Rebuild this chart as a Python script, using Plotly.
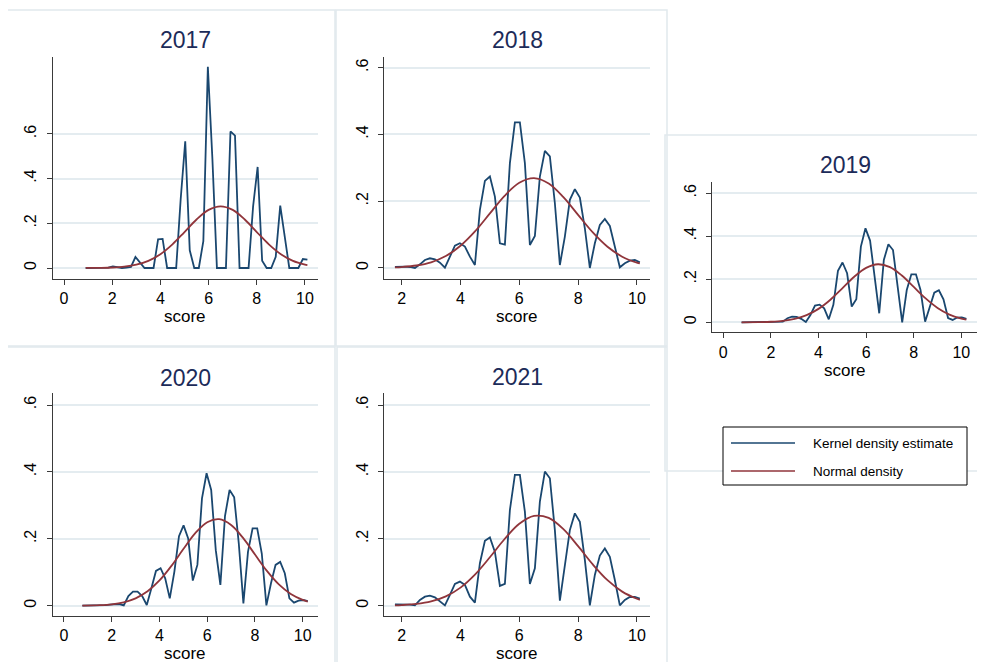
import plotly.graph_objects as go

# ---------------- data ----------------
years = ["2017", "2018", "2019", "2020", "2021"]

kde_x_2017 = [0.9, 1.088, 1.276, 1.463, 1.651, 1.839, 2.027, 2.214, 2.402, 2.59,
              2.778, 2.965, 3.153, 3.341, 3.529, 3.716, 3.904, 4.092, 4.28, 4.467,
              4.655, 4.843, 5.031, 5.218, 5.406, 5.594, 5.782, 5.969, 6.157, 6.345,
              6.533, 6.72, 6.908, 7.096, 7.284, 7.471, 7.659, 7.847, 8.035, 8.222,
              8.41, 8.598, 8.786, 8.973, 9.161, 9.349, 9.537, 9.724, 9.912, 10.1]
kde_y_2017 = [0, 0, 0, 0, 0, 0.002, 0.007, 0.002, 0, 0.002,
              0.005, 0.049, 0.025, 0, 0, 0, 0.128, 0.13, 0, 0,
              0, 0.31, 0.567, 0.079, 0, 0, 0.12, 0.9, 0.49, 0,
              0, 0, 0.611, 0.592, 0, 0, 0, 0.276, 0.452, 0.033,
              0, 0, 0.05, 0.279, 0.14, 0, 0, 0, 0.04, 0.037]

kde_x_2018 = [1.77, 1.94, 2.11, 2.28, 2.45, 2.62, 2.79, 2.96, 3.13, 3.30,
              3.47, 3.64, 3.81, 3.98, 4.15, 4.32, 4.49, 4.66, 4.83, 5.00,
              5.17, 5.34, 5.51, 5.68, 5.85, 6.02, 6.19, 6.36, 6.53, 6.70,
              6.87, 7.04, 7.21, 7.38, 7.55, 7.72, 7.89, 8.06, 8.23, 8.40,
              8.57, 8.74, 8.91, 9.08, 9.25, 9.42, 9.59, 9.76, 9.93, 10.10]
kde_y_2018 = [0.003, 0.004, 0.004, 0.003, 0, 0.011, 0.024, 0.029, 0.026, 0.016,
              0.001, 0.034, 0.067, 0.074, 0.064, 0.034, 0.009, 0.174, 0.261, 0.274,
              0.214, 0.074, 0.07, 0.314, 0.436, 0.436, 0.314, 0.069, 0.096, 0.274,
              0.351, 0.334, 0.194, 0.009, 0.094, 0.204, 0.236, 0.211, 0.119, 0,
              0.074, 0.129, 0.147, 0.126, 0.064, 0.002, 0.014, 0.022, 0.024, 0.017]

kde_x_2019 = [0.77, 0.963, 1.155, 1.348, 1.541, 1.734, 1.926, 2.119, 2.312, 2.504,
              2.697, 2.89, 3.082, 3.275, 3.468, 3.661, 3.853, 4.046, 4.239, 4.431,
              4.624, 4.817, 5.009, 5.202, 5.395, 5.588, 5.78, 5.973, 6.166, 6.358,
              6.551, 6.744, 6.936, 7.129, 7.322, 7.515, 7.707, 7.9, 8.093, 8.285,
              8.478, 8.671, 8.863, 9.056, 9.249, 9.442, 9.634, 9.827, 10.02, 10.212]
kde_y_2019 = [0, 0, 0, 0, 0.001, 0.002, 0.003, 0.003, 0.003, 0.003,
              0.019, 0.026, 0.025, 0.016, 0.001, 0.034, 0.078, 0.082, 0.065, 0.014,
              0.081, 0.239, 0.278, 0.228, 0.073, 0.107, 0.352, 0.437, 0.38, 0.197,
              0.042, 0.29, 0.363, 0.336, 0.166, 0.0, 0.15, 0.223, 0.223, 0.15,
              0.003, 0.076, 0.138, 0.149, 0.107, 0.02, 0.011, 0.022, 0.023, 0.016]

kde_x_2020 = kde_x_2019
kde_y_2020 = [0, 0, 0, 0.001, 0.001, 0.002, 0.003, 0.004, 0.005, 0.001,
              0.029, 0.042, 0.042, 0.029, 0.002, 0.052, 0.104, 0.112, 0.082, 0.022,
              0.102, 0.208, 0.24, 0.201, 0.075, 0.122, 0.321, 0.396, 0.346, 0.166,
              0.062, 0.268, 0.346, 0.324, 0.186, 0.007, 0.161, 0.231, 0.231, 0.156,
              0.001, 0.067, 0.122, 0.131, 0.097, 0.022, 0.009, 0.015, 0.017, 0.014]

kde_x_2021 = kde_x_2018
kde_y_2021 = [0.004, 0.004, 0.004, 0.003, 0.001, 0.017, 0.027, 0.03, 0.025, 0.012,
              0.001, 0.032, 0.065, 0.072, 0.062, 0.027, 0.009, 0.127, 0.194, 0.204,
              0.161, 0.059, 0.065, 0.286, 0.391, 0.391, 0.281, 0.065, 0.112, 0.311,
              0.401, 0.381, 0.226, 0.015, 0.117, 0.226, 0.276, 0.251, 0.137, 0.001,
              0.092, 0.15, 0.171, 0.146, 0.077, 0.001, 0.017, 0.026, 0.026, 0.021]

norm_x_2017 = [0.9, 1.5, 2, 2.5, 3, 3.5, 4, 4.5, 5, 5.5, 6, 6.5, 7, 7.5, 8, 8.5, 9, 9.5, 10, 10.1]
norm_y_2017 = [0.0002, 0.0007, 0.0022, 0.006, 0.0147, 0.0318, 0.0618, 0.1058, 0.161, 0.217,
               0.26, 0.276, 0.26, 0.217, 0.161, 0.1058, 0.0618, 0.0318, 0.0147, 0.0125]

norm_x_2018 = [1.77, 2, 2.5, 3, 3.5, 4, 4.5, 5, 5.5, 6, 6.5, 7, 7.5, 8, 8.5, 9, 9.5, 10, 10.1]
norm_y_2018 = [0.0017, 0.0028, 0.0074, 0.0171, 0.0357, 0.0667, 0.1103, 0.1635, 0.2162, 0.2552,
               0.269, 0.253, 0.2121, 0.159, 0.1064, 0.0635, 0.0339, 0.016, 0.0137]

norm_x_2019 = [0.77, 1.5, 2, 2.5, 3, 3.5, 4, 4.5, 5, 5.5, 6, 6.5, 7, 7.5, 8, 8.5, 9, 9.5, 10, 10.21]
norm_y_2019 = [0.0001, 0.0008, 0.0025, 0.0066, 0.0156, 0.033, 0.0624, 0.1051, 0.158, 0.2117,
               0.2531, 0.27, 0.2566, 0.2176, 0.1645, 0.111, 0.0668, 0.0359, 0.0172, 0.0121]

norm_x_2020 = [0.77, 1.5, 2, 2.5, 3, 3.5, 4, 4.5, 5, 5.5, 6, 6.5, 7, 7.5, 8, 8.5, 9, 9.5, 10, 10.21]
norm_y_2020 = [0.0003, 0.0016, 0.0042, 0.0102, 0.022, 0.0429, 0.0754, 0.119, 0.1694, 0.2168,
               0.2496, 0.2587, 0.2413, 0.2026, 0.153, 0.104, 0.0637, 0.0351, 0.0174, 0.0125]

norm_x_2021 = [1.77, 2, 2.5, 3, 3.5, 4, 4.5, 5, 5.5, 6, 6.5, 7, 7.5, 8, 8.5, 9, 9.5, 10, 10.1]
norm_y_2021 = [0.0012, 0.0019, 0.0052, 0.0128, 0.0279, 0.0541, 0.0937, 0.1448, 0.1994, 0.245,
               0.2686, 0.2624, 0.2288, 0.1779, 0.1233, 0.0762, 0.0421, 0.0207, 0.0177]

y_tickvals = [0, 0.2, 0.4, 0.6]
y_ticktext = ["0", ".2", ".4", ".6"]
x_ticks_full = [0, 2, 4, 6, 8, 10]
x_ticks_short = [2, 4, 6, 8, 10]
x_title = "score"
legend_labels = ["Kernel density estimate", "Normal density"]

kde_x = [kde_x_2017, kde_x_2018, kde_x_2019, kde_x_2020, kde_x_2021]
kde_y = [kde_y_2017, kde_y_2018, kde_y_2019, kde_y_2020, kde_y_2021]
norm_x = [norm_x_2017, norm_x_2018, norm_x_2019, norm_x_2020, norm_x_2021]
norm_y = [norm_y_2017, norm_y_2018, norm_y_2019, norm_y_2020, norm_y_2021]

# ---------------- layout (pixel geometry, page coordinates) ----------------
PAGE_MARGIN = 8            # default body margin of the html page
W, H = 985 - 2 * PAGE_MARGIN, 670 - 2 * PAGE_MARGIN
FONT = "Liberation Sans, Arial, Helvetica, sans-serif"
BLUE = "#1a476f"
RED = "#90353b"
TITLE_C = "#1c2b59"
AX_C = "#3a3a3a"
GRID_C = "#e4ecf0"
FRAME_C = "#e1e9ed"

# left, right, top, bottom (pixels), xrange, yrange, xticks, title_y, score_y
panels = [
    (52.7, 318, 57, 279, [-0.469, 10.54], [-0.0492, 0.944], x_ticks_full, 40, 316),
    (384.3, 650, 57, 279, [1.408, 10.446], [-0.033, 0.632], x_ticks_short, 40, 316),
    (712.3, 978, 182.3, 332.3, [-0.46, 10.657], [-0.0465, 0.651], x_ticks_full, 165, 370),
    (52.7, 318, 393.3, 616, [-0.473, 10.64], [-0.0308, 0.635], x_ticks_full, 378, 653),
    (384.3, 650, 393.3, 616, [1.408, 10.446], [-0.0308, 0.635], x_ticks_short, 377, 653),
]
frames = [(7, 335, 10, 346), (336, 667, 10, 346), (665, 1000, 135, 471),
          (7, 335, 347, 690), (337, 667, 347, 690)]


def px(x):
    return (x - PAGE_MARGIN) / W


def py(y):
    return 1 - (y - PAGE_MARGIN) / H


fig = go.Figure()
shapes = []
annotations = []

for (x0, x1, y0, y1) in frames:
    shapes.append(dict(type="rect", xref="paper", yref="paper",
                       x0=px(x0), x1=px(x1), y0=py(y1), y1=py(y0),
                       line=dict(color=FRAME_C, width=1.5), layer="below"))

for i, (l, r, t, b, xr, yr, xt, ty, sy) in enumerate(panels):
    n = "" if i == 0 else str(i + 1)
    xa = "x" + n
    ya = "y" + n
    fig.add_trace(go.Scatter(x=kde_x[i], y=kde_y[i], mode="lines",
                             line=dict(color=BLUE, width=1.8),
                             xaxis=xa, yaxis=ya, showlegend=False,
                             name=legend_labels[0]))
    fig.add_trace(go.Scatter(x=norm_x[i], y=norm_y[i], mode="lines",
                             line=dict(color=RED, width=1.8, shape="spline", smoothing=1.0),
                             xaxis=xa, yaxis=ya, showlegend=False,
                             name=legend_labels[1]))
    fig.layout["xaxis" + n] = dict(
        domain=[max(0, px(l)), min(1, px(r))], range=xr, anchor=ya,
        showline=True, linecolor=AX_C, linewidth=1.2,
        ticks="outside", ticklen=5, tickwidth=1.2, tickcolor=AX_C,
        tickvals=xt, ticktext=[str(v) for v in xt],
        tickfont=dict(family=FONT, size=16, color="black"),
        showgrid=False, zeroline=False, fixedrange=True)
    fig.layout["yaxis" + n] = dict(
        domain=[py(b), py(t)], range=yr, anchor=xa,
        showline=True, linecolor=AX_C, linewidth=1.2,
        ticks="outside", ticklen=5, tickwidth=1.2, tickcolor=AX_C,
        tickvals=y_tickvals, ticktext=y_ticktext, tickangle=-90,
        ticklabelstandoff=4,
        tickfont=dict(family=FONT, size=16, color="black"),
        showgrid=True, gridcolor=GRID_C, gridwidth=1.5,
        zeroline=False, fixedrange=True)
    cx = (l + r) / 2
    annotations.append(dict(text=years[i], xref="paper", yref="paper",
                            x=px(cx), y=py(ty), xanchor="center", yanchor="middle",
                            showarrow=False,
                            font=dict(family=FONT, size=23, color=TITLE_C)))
    annotations.append(dict(text=x_title, xref="paper", yref="paper",
                            x=px(cx), y=py(sy), xanchor="center", yanchor="middle",
                            showarrow=False,
                            font=dict(family=FONT, size=17, color="black")))

# legend box
shapes.append(dict(type="rect", xref="paper", yref="paper",
                   x0=px(723), x1=px(967), y0=py(485), y1=py(427),
                   line=dict(color="black", width=1), fillcolor="white", layer="above"))
for yy, col, lab in [(443, BLUE, legend_labels[0]), (471, RED, legend_labels[1])]:
    shapes.append(dict(type="line", xref="paper", yref="paper",
                       x0=px(731), x1=px(795), y0=py(yy), y1=py(yy),
                       line=dict(color=col, width=1.6), layer="above"))
    annotations.append(dict(text=lab, xref="paper", yref="paper",
                            x=px(811), y=py(yy), xanchor="left", yanchor="middle",
                            showarrow=False,
                            font=dict(family=FONT, size=13.5, color="black")))

fig.update_layout(width=W, height=H, margin=dict(l=0, r=0, t=0, b=0),
                  paper_bgcolor="white", plot_bgcolor="white",
                  shapes=shapes, annotations=annotations, showlegend=False)

fig.write_html("out.html")
